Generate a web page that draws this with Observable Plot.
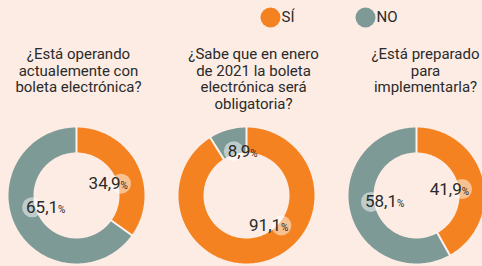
<!DOCTYPE html>
<html><head><meta charset="utf-8">
<script src="https://cdn.jsdelivr.net/npm/d3@7"></script>
<script src="https://cdn.jsdelivr.net/npm/@observablehq/plot@0.6"></script>
<style>
html,body{margin:0;padding:0;background:#fcece4;}
#chart svg{display:block;}
</style></head><body><div id="chart"></div>
<script>
// ---- data ----
const categories = ["SÍ", "NO"];
const questions = [
  "¿Está operando\nactualemente con\nboleta electrónica?",
  "¿Sabe que en enero\nde 2021 la boleta\nelectrónica será\nobligatoria?",
  "¿Está preparado\npara\nimplementarla?"
];
const siValues = [34.9, 91.1, 41.9];
const noValues = [65.1, 8.9, 58.1];

// ---- layout / style ----
const colors = ["#f58220", "#7d9a97"];
const W = 482, H = 266;
const cx0 = 76, dxC = 170, cy = 195, rOut = 68, rIn = 43, rLab = 46;
const titleY = 47, titleShift = [2, 7, 9];
const legendX = [270, 365], legendY = 17;
const FONT = "Roboto, 'Noto Sans', sans-serif";

const arcs = [], seps = [], labels = [];
questions.forEach((q, i) => {
  const cx = cx0 + i * dxC;
  const vals = [siValues[i], noValues[i]];
  const total = d3.sum(vals);
  let acc = 0;
  vals.forEach((v, k) => {
    const a0 = acc / total * 2 * Math.PI; acc += v;
    const a1 = acc / total * 2 * Math.PI;
    const n = Math.max(2, Math.ceil((a1 - a0) / (Math.PI / 180)));
    const id = i + "-" + k;
    for (let j = 0; j <= n; j++) { const a = a0 + (a1 - a0) * j / n; arcs.push({id, cat: categories[k], x: cx + rOut * Math.sin(a), y: cy - rOut * Math.cos(a)}); }
    for (let j = n; j >= 0; j--) { const a = a0 + (a1 - a0) * j / n; arcs.push({id, cat: categories[k], x: cx + rIn * Math.sin(a), y: cy - rIn * Math.cos(a)}); }
    seps.push({x1: cx + (rIn - 1) * Math.sin(a0), y1: cy - (rIn - 1) * Math.cos(a0), x2: cx + (rOut + 1) * Math.sin(a0), y2: cy - (rOut + 1) * Math.cos(a0)});
    let m = (a0 + a1) / 2;
    if (v >= 20) { const hz = Math.sin(m) >= 0 ? Math.PI / 2 : 3 * Math.PI / 2; m = m + (hz - m) * 0.45; }
    const lx = cx + rLab * Math.sin(m), ly = cy - rLab * Math.cos(m);
    labels.push({x: lx, y: ly, right: lx > cx, text: v.toFixed(1).replace(".", ",") + "%"});
  });
});
const titles = questions.map((q, i) => ({x: cx0 + i * dxC + titleShift[i], y: titleY, text: q}));
const legend = categories.map((c, k) => ({x: legendX[k], y: legendY, cat: c}));

const plot = Plot.plot({
  width: W, height: H,
  margin: 0,
  style: {background: "#fcece4", fontFamily: FONT, color: "#2a2a2a"},
  x: {type: "identity", axis: null},
  y: {type: "identity", axis: null},
  color: {domain: categories, range: colors},
  marks: [
    Plot.line(arcs, {x: "x", y: "y", z: "id", fill: "cat", stroke: "none"}),
    Plot.link(seps, {x1: "x1", y1: "y1", x2: "x2", y2: "y2", stroke: "#fdf3ee", strokeWidth: 2}),
    Plot.dot(labels, {x: "x", y: "y", r: 10, fill: "#ffffff", fillOpacity: 0.5, stroke: "none"}),
    Plot.text(labels.filter(d => d.right), {x: d => d.x + 7, y: "y", text: "text", textAnchor: "end", fontSize: 17, fill: "#2a2a2a"}),
    Plot.text(labels.filter(d => !d.right), {x: d => d.x - 6, y: "y", text: "text", textAnchor: "start", fontSize: 17, fill: "#2a2a2a"}),
    Plot.text(titles, {x: "x", y: "y", text: "text", lineAnchor: "top", lineHeight: 1.1, fontSize: 15, fill: "#2a2a2a"}),
    Plot.dot(legend, {x: "x", y: "y", r: 10, fill: "cat", stroke: "none"}),
    Plot.text(legend, {x: d => d.x + 11, y: "y", text: "cat", textAnchor: "start", fontSize: 15, fill: "#2a2a2a"})
  ]
});
plot.querySelectorAll("text").forEach(el => {
  const t = el.textContent;
  if (/^[0-9,]+%$/.test(t)) {
    el.textContent = t.slice(0, -1);
    const ts = document.createElementNS("http://www.w3.org/2000/svg", "tspan");
    ts.setAttribute("font-size", "10");
    ts.textContent = "%";
    el.appendChild(ts);
  }
});
document.getElementById("chart").appendChild(plot);
</script></body></html>
